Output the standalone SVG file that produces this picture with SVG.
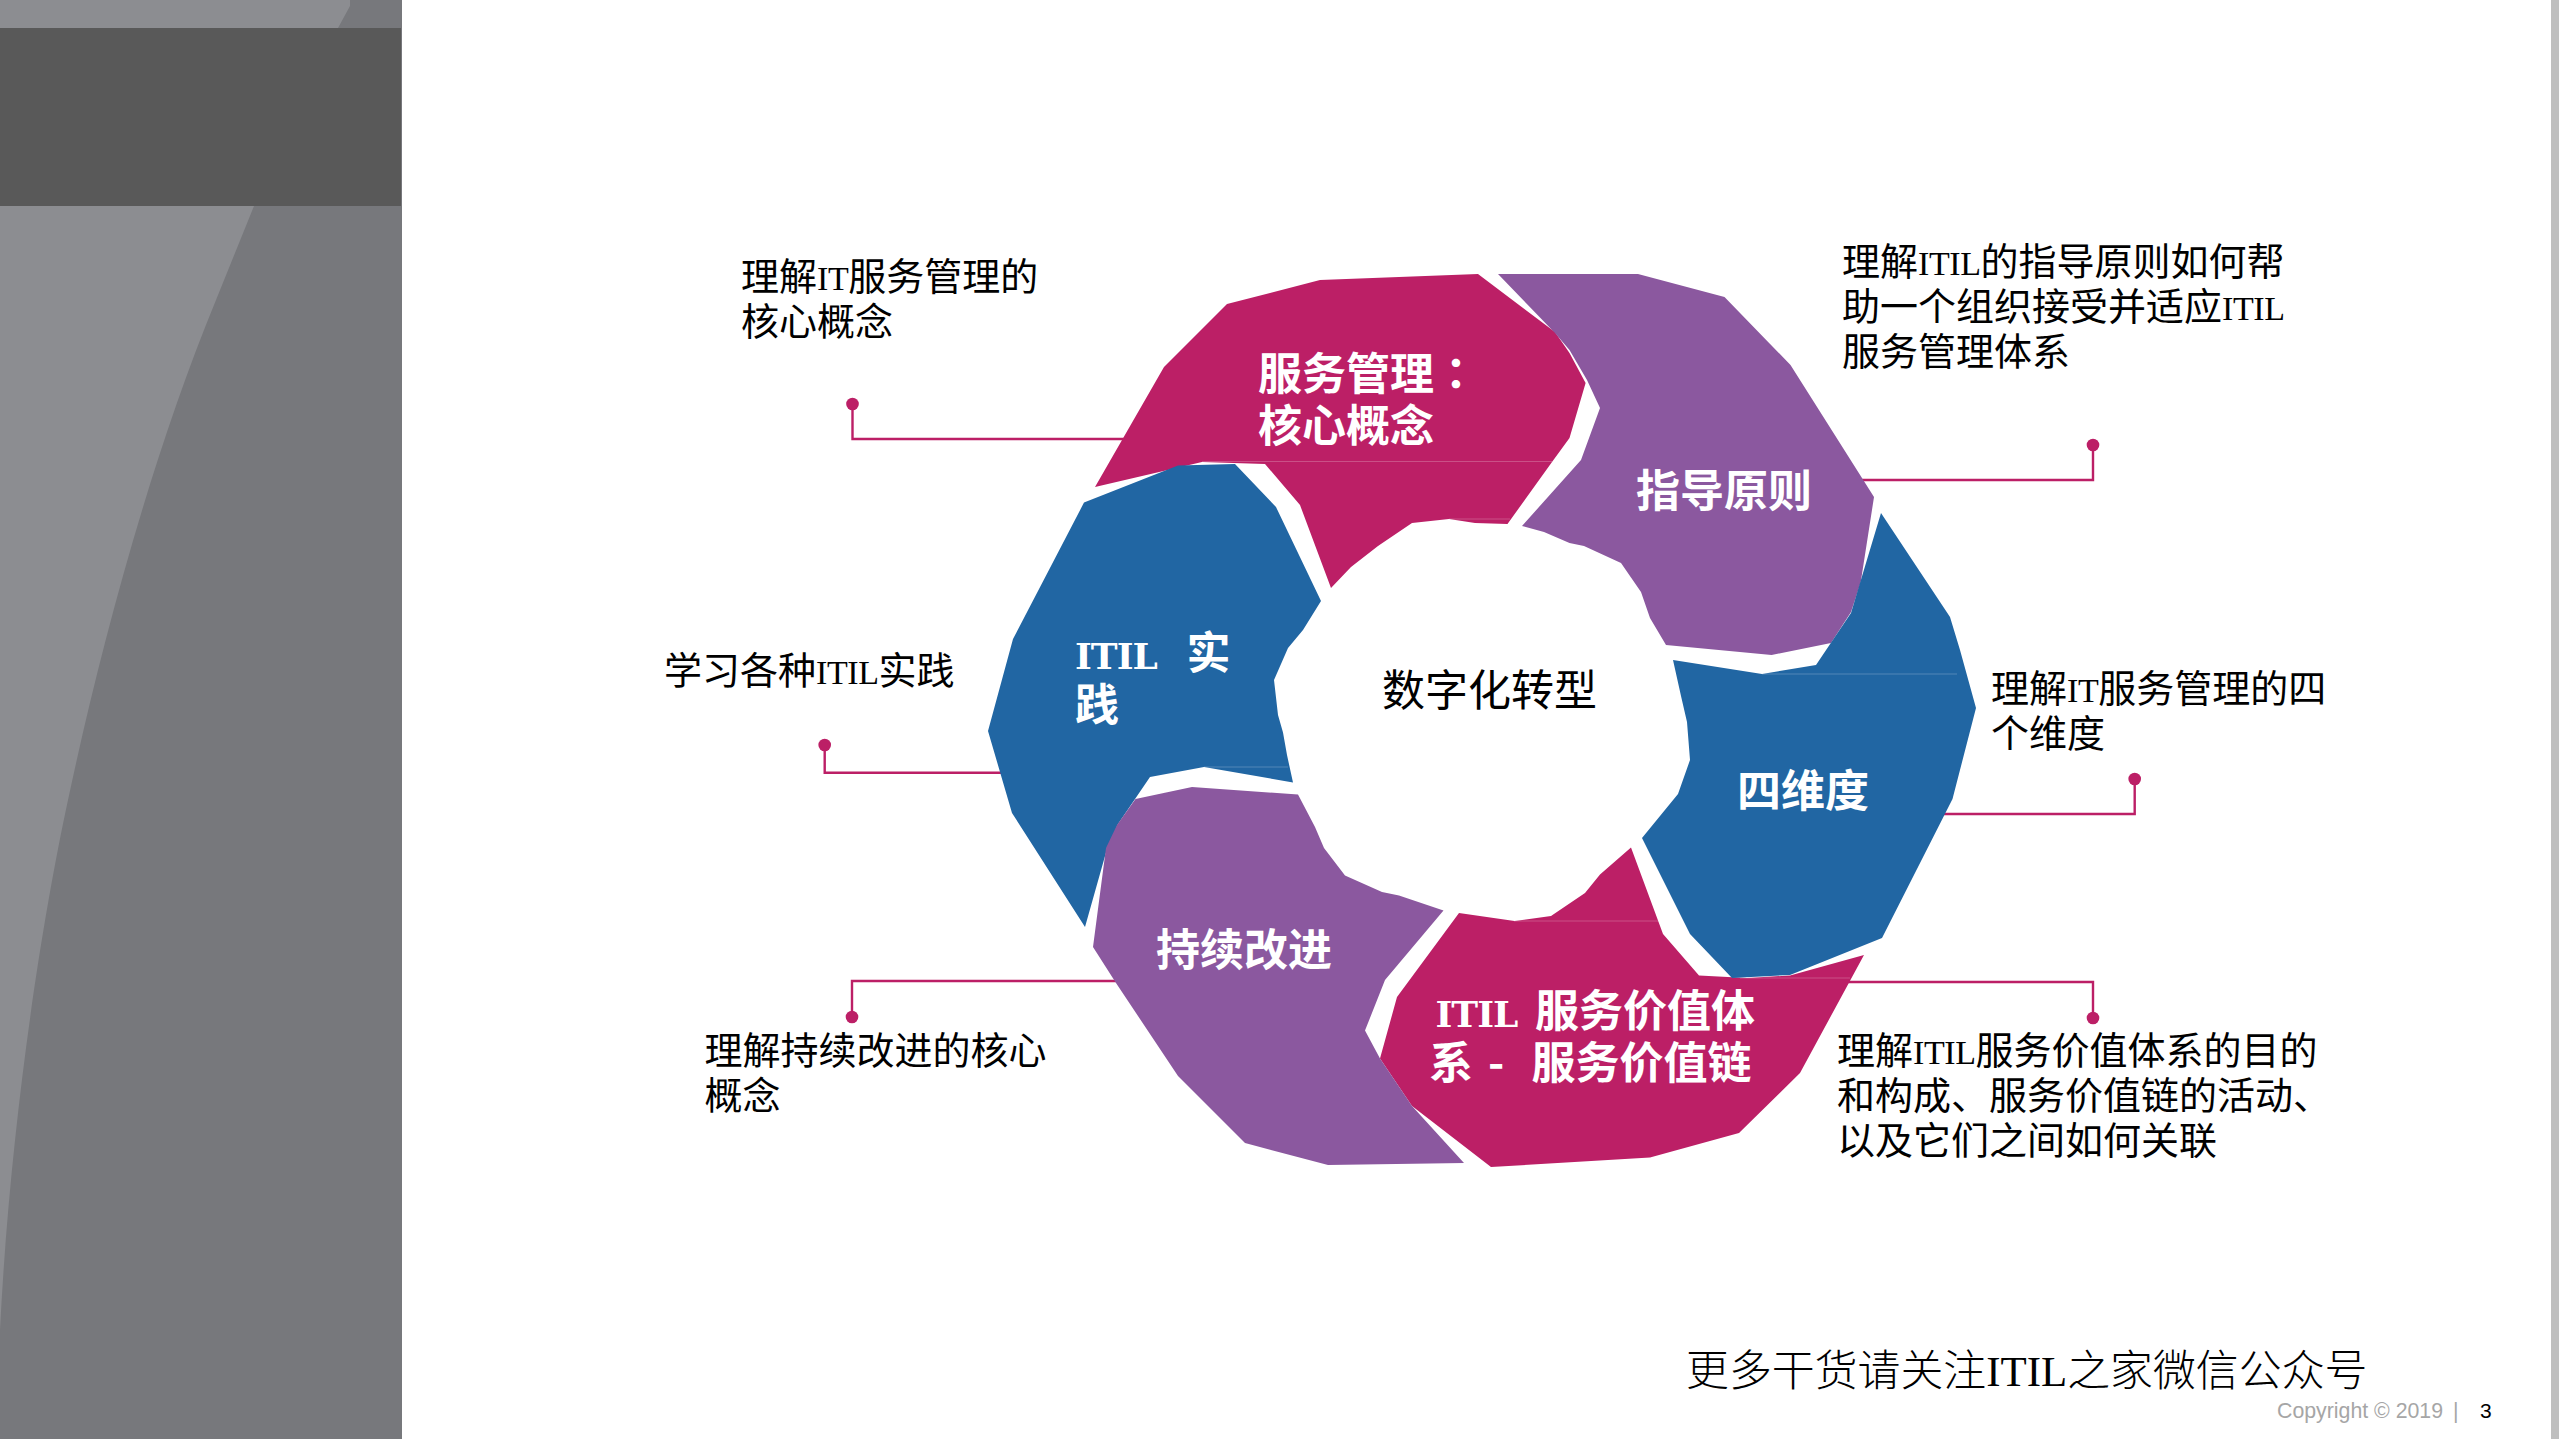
<svg xmlns="http://www.w3.org/2000/svg" width="2559" height="1439" viewBox="0 0 2559 1439">
<defs>
<style>
.mg{fill:#BC1F66}.pu{fill:#8B589F}.bl{fill:#2166A3}
.seam{stroke:#fff;stroke-opacity:.22;stroke-width:1;fill:none}
.lead{fill:none;stroke:#BC1F66;stroke-width:2.4}
.dot{fill:#BC1F66}
text{font-family:"Liberation Serif","Noto Sans CJK SC",sans-serif}
.t{font-size:38px;fill:#000}
.t .lat{font-size:34px;letter-spacing:-.4px}
.h{font-size:44px;font-weight:700;fill:#fff;font-family:"Noto Sans CJK SC",sans-serif}
.h .lat{font-family:"DejaVu Serif",serif;font-size:36px;letter-spacing:-1px}
.c{font-size:43px;fill:#000;font-family:"Noto Sans CJK SC",sans-serif}
.f{font-size:42.9px;fill:#000;font-weight:300}
.cp{font-family:"Liberation Sans",sans-serif;font-size:21.3px;fill:#A6A6A6}
.pn{font-family:"Liberation Sans",sans-serif;font-size:21px;fill:#000}
</style>
</defs>
<rect width="2559" height="1439" fill="#fff"/>
<g id="sidebar">
<rect x="0" y="0" width="402" height="1439" fill="#77787C"/>
<path d="M0,0H350V6L338,28L254,206L216,300C150,460 100,650 68,800C40,930 10,1130 0,1330Z" fill="#8C8D91"/>
<rect x="0" y="28" width="401" height="178" fill="#595959"/>
</g>
<rect id="right-strip" x="2551" y="0" width="8" height="1439" fill="#BFBFBF"/>
<g id="connectors">
<path class="lead" d="M852.5,404V439H1140"/>
<circle class="dot" cx="852.5" cy="404" r="6.3"/>
<path class="lead" d="M1850,480H2093V445"/>
<circle class="dot" cx="2093" cy="445" r="6.3"/>
<path class="lead" d="M1930,814H2134.7V779"/>
<circle class="dot" cx="2134.7" cy="779" r="6.3"/>
<path class="lead" d="M1830,982H2093V1018"/>
<circle class="dot" cx="2093" cy="1018" r="6.3"/>
<path class="lead" d="M824.7,745V772.7H1010"/>
<circle class="dot" cx="824.7" cy="745" r="6.3"/>
<path class="lead" d="M852,1017V981H1125"/>
<circle class="dot" cx="852" cy="1017" r="6.3"/>
</g>
<g id="node-service-concepts">
<polygon class="mg" points="1478,274 1320,280 1227,304 1164,367 1095,487 1202,462 1265,464 1300,505 1331,588 1351,567 1378,546 1412,523 1449,519 1475,523 1507.5,524 1552,462 1569.5,438 1585.6,383 1569.5,353 1555,332"/>
<path class="seam" d="M1202,461.5H1552M1449,519H1510"/>
<text class="h" x="1258" y="390">服务管理<tspan style="font-family:'Noto Sans CJK TC',sans-serif">：</tspan></text>
<text class="h" x="1258" y="442">核心概念</text>
<text class="t" x="741" y="290">理解<tspan class="lat">IT</tspan>服务管理的</text>
<text class="t" x="741" y="335">核心概念</text>
</g>
<g id="node-principles">
<polygon class="pu" points="1498,274 1638,274 1724.5,297 1790.5,365 1874,497 1860.6,583 1851,612 1831,643 1771.6,655 1666,645 1650,618 1641,592 1621,563 1584,546 1569.5,543 1544,532 1522,526 1581,460 1600,408 1587,380 1569.5,350 1555,333"/>
<text class="h" x="1636" y="507">指导原则</text>
<text class="t" x="1842" y="275">理解<tspan class="lat">ITIL</tspan>的指导原则如何帮</text>
<text class="t" x="1842" y="320">助一个组织接受并适应<tspan class="lat">ITIL</tspan></text>
<text class="t" x="1842" y="365">服务管理体系</text>
</g>
<g id="node-value-system">
<polygon class="mg" points="1459,913 1514.5,921 1551,916 1585,893 1600,874.5 1631,847.5 1663,934 1699,975.5 1747,978 1790,975.5 1864,955 1800,1073 1739,1133 1650,1157.5 1491,1167 1412,1106 1380,1058.6 1397,997"/>
<path class="seam" d="M1514,921H1663M1740,978H1850"/>
<text class="h" x="1435.5" y="1027"><tspan class="lat">ITIL</tspan><tspan x="1535">服务价值体</tspan></text>
<text class="h" x="1429" y="1079">系<tspan x="1488">-</tspan><tspan x="1531.6">服务价值链</tspan></text>
<text class="t" x="1837" y="1064">理解<tspan class="lat">ITIL</tspan>服务价值体系的目的</text>
<text class="t" x="1837" y="1109">和构成、服务价值链的活动、</text>
<text class="t" x="1837" y="1154">以及它们之间如何关联</text>
</g>
<g id="node-dimensions">
<polygon class="bl" points="1673,660 1762,674 1816,665 1851,613 1881,513 1950,617 1960,650 1976,708 1952.5,799 1882,938 1790,975 1732,978 1690,934 1642,838 1678,794 1690,760 1687,722 1681,696"/>
<path class="seam" d="M1762,674H1957"/>
<text class="h" x="1737" y="807">四维度</text>
<text class="t" x="1991" y="702">理解<tspan class="lat">IT</tspan>服务管理的四</text>
<text class="t" x="1991" y="747">个维度</text>
</g>
<g id="node-practices">
<polygon class="bl" points="1235,464 1178,465.5 1084,502.6 1013,639 988,731 1012,813 1085,927 1107,849 1118,824 1150,777 1204,767 1293,782.5 1287,755 1283,732.5 1278,715 1274,680 1288,648 1303,630 1321,601 1276,507"/>
<path class="seam" d="M1204,767H1288"/>
<text class="h" x="1075" y="669"><tspan class="lat">ITIL</tspan><tspan x="1186.500">实</tspan></text>
<text class="h" x="1075" y="721">践</text>
<text class="t" x="664" y="684">学习各种<tspan class="lat">ITIL</tspan>实践</text>
</g>
<g id="node-improvement">
<polygon class="pu" points="1443.5,910.6 1399,895.5 1382,892 1345,875.5 1324,848 1315,827 1298,794.5 1192,787 1135.5,799 1117,825 1106,848 1093,947 1116,983 1178,1076 1245,1143 1328,1165 1464,1163 1412,1106 1380,1058.6 1365,1030.6 1385,980"/>
<text class="h" x="1156" y="966">持续改进</text>
<text class="t" x="704.500" y="1064">理解持续改进的核心</text>
<text class="t" x="704.500" y="1109">概念</text>
</g>
<g id="node-center">
<text class="c" x="1382" y="706">数字化转型</text>
</g>
<g id="footer">
<text class="f" x="1686" y="1386">更多干货请关注ITIL之家微信公众号</text>
<text class="cp" x="2277" y="1418">Copyright © 2019</text>
<text class="cp" x="2453" y="1418">|</text>
<text class="pn" x="2480" y="1418">3</text>
</g>
</svg>
